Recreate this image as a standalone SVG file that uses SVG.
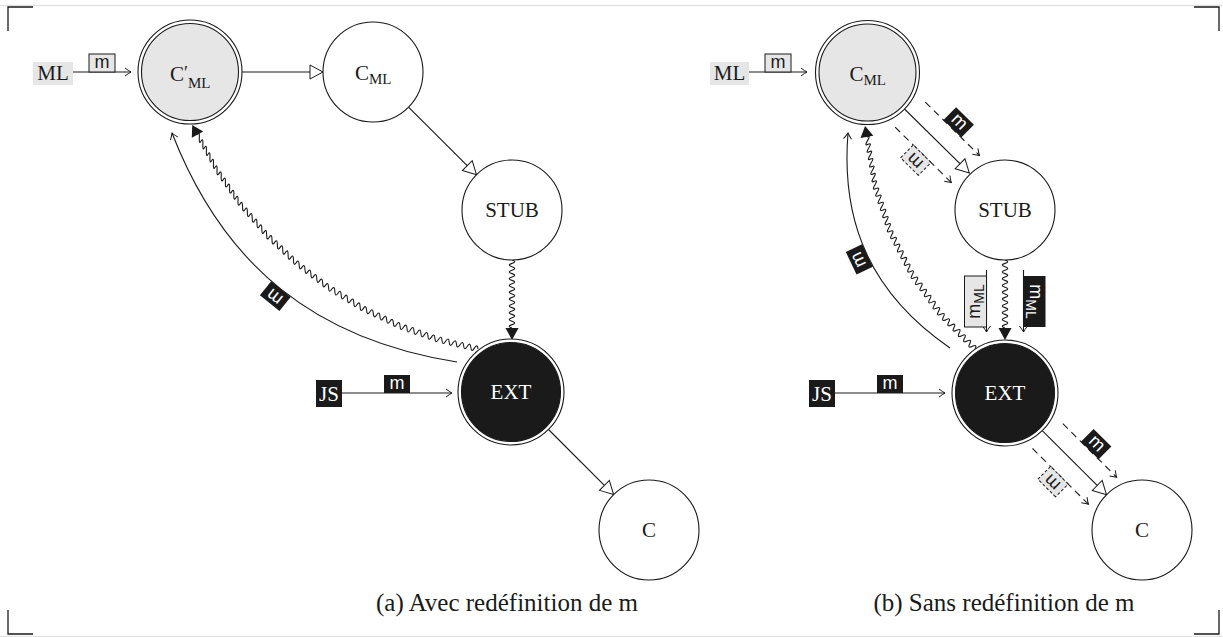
<svg xmlns="http://www.w3.org/2000/svg" width="1223" height="637" viewBox="0 0 1223 637">
<defs>
<style>
.ln{fill:none;stroke:#1a1a1a;stroke-width:1.1}
.dash{stroke-dasharray:7 5}
.wave{fill:none;stroke:#1a1a1a;stroke-width:1.1}
.circ{stroke:#1a1a1a;stroke-width:1.1;fill:#fff}
.gray{fill:#e6e6e6}
.blk{fill:#1a1a1a}
.gdash{fill:#e6e6e6;stroke:#1a1a1a;stroke-width:1;stroke-dasharray:3 2}
.gbox{fill:#e6e6e6;stroke:#1a1a1a;stroke-width:1}
.serif{font-family:"Liberation Serif","Times New Roman",serif;font-size:21px;fill:#1a1a1a}
.sans{font-family:"Liberation Sans",Arial,sans-serif;font-size:18px;fill:#1a1a1a}
.cap{font-family:"Liberation Serif","Times New Roman",serif;font-size:25px;fill:#1a1a1a}
.w{fill:#fff}
.corner{fill:none;stroke:#1a1a1a;stroke-width:1.3}
.page{fill:none;stroke:#e3e3e3;stroke-width:1.5}
</style>
<marker id="to" viewBox="-8 -6 10 12" markerWidth="10" markerHeight="12" refX="0" refY="0" orient="auto" markerUnits="userSpaceOnUse"><path d="M-6,-4 Q-2,-1 0,0 Q-2,1 -6,4" fill="none" stroke="#1a1a1a" stroke-width="1"/></marker>
<marker id="tri" viewBox="-15 -9 17 18" markerWidth="17" markerHeight="18" refX="0" refY="0" orient="auto" markerUnits="userSpaceOnUse"><path d="M-13,-7 L0,0 L-13,7 Z" fill="#fff" stroke="#1a1a1a" stroke-width="1"/></marker>
</defs>
<rect x="0" y="0" width="1223" height="637" fill="#fff"/>
<g id="frame">
<path class="page" d="M0,5.5 H1223 M0,636.5 H1223"/>
<path class="corner" d="M8,31 V7 H33 M1194,7 H1219 V31 M8,610 V634 H33 M1194,634 H1219 V610"/>
</g>

<g id="connectors">
<!-- (a) -->
<rect x="33" y="62" width="40" height="23" class="gray"/>
<text x="53" y="80" class="serif" text-anchor="middle">ML</text>
<path class="ln" d="M73,72 H131" marker-end="url(#to)"/>
<rect x="89" y="54" width="26" height="18" class="gbox"/>
<text x="102" y="67.5" class="sans" text-anchor="middle">m</text>
<path class="ln" d="M242,72 H323" marker-end="url(#tri)"/>
<path class="ln" d="M408.5,107.2 L476.5,174.8" marker-end="url(#tri)"/>
<path class="wave" d="M512,260 q5.5,1.7 0,3.4 t0,3.4 0,3.4 0,3.4 0,3.4 0,3.4 0,3.4 0,3.4 0,3.4 0,3.4 0,3.4 0,3.4 0,3.4 0,3.4 0,3.4 0,3.4 0,3.4 0,3.4 0,3.4 0,3.4"/>
<polygon points="505.5,328 518.5,328 512,340" class="blk"/>
<path class="ln" d="M548.5,429.5 L613.6,494.6" marker-end="url(#tri)"/>
<rect x="316" y="380" width="26" height="27" class="blk"/>
<text x="329" y="401" class="serif w" text-anchor="middle">JS</text>
<path class="ln" d="M342,393 H452" marker-end="url(#to)"/>
<rect x="384" y="375" width="26" height="18" class="blk"/>
<text x="397" y="388.5" class="sans w" text-anchor="middle">m</text>
<path class="wave" d="M478,349 q-0.52,-5.78 -3.599,-0.857
t-3.599,-0.857 -3.599,-0.857 -3.599,-0.857 -3.599,-0.857 -3.599,-0.857 -3.599,-0.857 -3.599,-0.857 -3.599,-0.857 -3.599,-0.857 -3.599,-0.857
-3.49,-1.229 -3.49,-1.229 -3.49,-1.229 -3.49,-1.229 -3.49,-1.229 -3.49,-1.229 -3.49,-1.229 -3.49,-1.229 -3.49,-1.229 -3.49,-1.229 -3.49,-1.229
-3.342,-1.587 -3.342,-1.587 -3.342,-1.587 -3.342,-1.587 -3.342,-1.587 -3.342,-1.587 -3.342,-1.587 -3.342,-1.587 -3.342,-1.587 -3.342,-1.587 -3.342,-1.587
-3.158,-1.928 -3.158,-1.928 -3.158,-1.928 -3.158,-1.928 -3.158,-1.928 -3.158,-1.928 -3.158,-1.928 -3.158,-1.928 -3.158,-1.928 -3.158,-1.928 -3.158,-1.928
-2.939,-2.247 -2.939,-2.247 -2.939,-2.247 -2.939,-2.247 -2.939,-2.247 -2.939,-2.247 -2.939,-2.247 -2.939,-2.247 -2.939,-2.247 -2.939,-2.247 -2.939,-2.247
-2.688,-2.542 -2.688,-2.542 -2.688,-2.542 -2.688,-2.542 -2.688,-2.542 -2.688,-2.542 -2.688,-2.542 -2.688,-2.542 -2.688,-2.542 -2.688,-2.542 -2.688,-2.542
-2.408,-2.809 -2.408,-2.809 -2.408,-2.809 -2.408,-2.809 -2.408,-2.809 -2.408,-2.809 -2.408,-2.809 -2.408,-2.809 -2.408,-2.809 -2.408,-2.809 -2.408,-2.809
-2.101,-3.045 -2.101,-3.045 -2.101,-3.045 -2.101,-3.045 -2.101,-3.045 -2.101,-3.045 -2.101,-3.045 -2.101,-3.045 -2.101,-3.045 -2.101,-3.045 -2.101,-3.045
-1.771,-3.249 -1.771,-3.249 -1.771,-3.249 -1.771,-3.249 -1.771,-3.249 -1.771,-3.249 -1.771,-3.249 -1.771,-3.249 -1.771,-3.249 -1.771,-3.249 -1.771,-3.249"/>
<polygon points="192.2,124.9 203.2,131.5 191.8,137.7" class="blk"/>
<path class="ln" d="M457,362 C315.7,339.7 223.8,266.3 172,133" marker-end="url(#to)"/>
<g transform="translate(275.3,296.1) rotate(218.7)"><rect x="-12.5" y="-9" width="25" height="18" class="blk"/><text x="0" y="4.5" class="sans w" text-anchor="middle">m</text></g>

<!-- (b) -->
<rect x="710" y="62" width="39" height="23" class="gray"/>
<text x="729.5" y="80" class="serif" text-anchor="middle">ML</text>
<path class="ln" d="M749,72 H807" marker-end="url(#to)"/>
<rect x="765" y="54" width="26" height="18" class="gbox"/>
<text x="778" y="67.5" class="sans" text-anchor="middle">m</text>
<g transform="translate(904.5,109) rotate(44.6)">
<path class="ln" d="M0,0 H91" marker-end="url(#tri)"/>
<path class="ln dash" d="M10,-19.5 H86" marker-end="url(#to)"/>
<path class="ln dash" d="M6,19.5 H85" marker-end="url(#to)"/>
<rect x="35.5" y="-37.5" width="25" height="18" class="blk"/>
<text x="48" y="-24" class="sans w" text-anchor="middle">m</text>
<g transform="translate(44,28.5) rotate(180)"><rect x="-12.5" y="-9" width="25" height="18" class="gdash"/><text x="0" y="4.5" class="sans" text-anchor="middle">m</text></g>
</g>
<path class="wave" d="M1005,260 q5.5,1.7 0,3.4 t0,3.4 0,3.4 0,3.4 0,3.4 0,3.4 0,3.4 0,3.4 0,3.4 0,3.4 0,3.4 0,3.4 0,3.4 0,3.4 0,3.4 0,3.4 0,3.4 0,3.4 0,3.4 0,3.4"/>
<polygon points="998.5,328 1011.5,328 1005,340" class="blk"/>
<path class="ln" d="M986.5,270 V332" marker-end="url(#to)"/>
<path class="ln" d="M1023.5,270 V332" marker-end="url(#to)"/>
<g transform="translate(975.5,301.5) rotate(-90)"><rect x="-25.5" y="-11" width="51" height="22" class="gbox"/><text x="0" y="4.5" class="sans" text-anchor="middle">m<tspan dy="4" font-size="14">ML</tspan></text></g>
<g transform="translate(1034.5,301.5) rotate(90)"><rect x="-25.5" y="-11" width="51" height="22" class="blk"/><text x="0" y="4.5" class="sans w" text-anchor="middle">m<tspan dy="4" font-size="14">ML</tspan></text></g>
<path class="wave" d="M975,349 q2.6,-5.2 -2.633,-2.67
t-2.633,-2.67 -2.633,-2.67 -2.633,-2.67 -2.633,-2.67 -2.633,-2.67 -2.633,-2.67 -2.633,-2.67 -2.633,-2.67 -2.633,-2.67 -2.633,-2.67 -2.633,-2.67 -2.633,-2.67
-2.194,-3.042 -2.194,-3.042 -2.194,-3.042 -2.194,-3.042 -2.194,-3.042 -2.194,-3.042 -2.194,-3.042 -2.194,-3.042 -2.194,-3.042 -2.194,-3.042 -2.194,-3.042 -2.194,-3.042 -2.194,-3.042
-1.703,-3.341 -1.703,-3.341 -1.703,-3.341 -1.703,-3.341 -1.703,-3.341 -1.703,-3.341 -1.703,-3.341 -1.703,-3.341 -1.703,-3.341 -1.703,-3.341 -1.703,-3.341 -1.703,-3.341 -1.703,-3.341
-1.171,-3.563 -1.171,-3.563 -1.171,-3.563 -1.171,-3.563 -1.171,-3.563 -1.171,-3.563 -1.171,-3.563 -1.171,-3.563 -1.171,-3.563 -1.171,-3.563 -1.171,-3.563 -1.171,-3.563 -1.171,-3.563
-0.612,-3.7 -0.612,-3.7 -0.612,-3.7 -0.612,-3.7 -0.612,-3.7 -0.612,-3.7 -0.612,-3.7 -0.612,-3.7 -0.612,-3.7 -0.612,-3.7 -0.612,-3.7 -0.612,-3.7 -0.612,-3.7"/>
<polygon points="865.1,126 873.35,135.8 860.5,138" class="blk"/>
<path class="ln" d="M950,348 C873.3,295.1 840.5,225.9 848,133" marker-end="url(#to)"/>
<g transform="translate(859.3,259.4) rotate(244.6)"><rect x="-12.5" y="-9" width="25" height="18" class="blk"/><text x="0" y="4.5" class="sans w" text-anchor="middle">m</text></g>
<rect x="809" y="380" width="26" height="27" class="blk"/>
<text x="822" y="401" class="serif w" text-anchor="middle">JS</text>
<path class="ln" d="M835,393 H945" marker-end="url(#to)"/>
<rect x="877" y="375" width="26" height="18" class="blk"/>
<text x="890" y="388.5" class="sans w" text-anchor="middle">m</text>
<g transform="translate(1042,430.4) rotate(44.9)">
<path class="ln" d="M0,0 H91" marker-end="url(#tri)"/>
<path class="ln dash" d="M10,-19.5 H86" marker-end="url(#to)"/>
<path class="ln dash" d="M6,19.5 H85" marker-end="url(#to)"/>
<rect x="35.5" y="-37.5" width="25" height="18" class="blk"/>
<text x="48" y="-24" class="sans w" text-anchor="middle">m</text>
<g transform="translate(44,28.5) rotate(180)"><rect x="-12.5" y="-9" width="25" height="18" class="gdash"/><text x="0" y="4.5" class="sans" text-anchor="middle">m</text></g>
</g>
</g>

<g id="a-cmlprime">
<circle cx="190" cy="72" r="52" class="circ"/>
<circle cx="190" cy="72" r="48.5" class="circ gray"/>
<text x="170" y="81" class="serif">C<tspan dy="-2" font-size="18">′</tspan><tspan dy="9" font-size="15">ML</tspan></text>
</g>
<g id="a-cml">
<circle cx="373" cy="72" r="50" class="circ"/>
<text x="355" y="80" class="serif">C<tspan dy="4" font-size="15">ML</tspan></text>
</g>
<g id="a-stub">
<circle cx="512" cy="210" r="50" class="circ"/>
<text x="512" y="217" class="serif" text-anchor="middle">STUB</text>
</g>
<g id="a-ext">
<circle cx="511" cy="392" r="53" class="circ"/>
<circle cx="511" cy="392" r="49.5" class="circ blk"/>
<text x="511" y="399" class="serif w" text-anchor="middle">EXT</text>
</g>
<g id="a-c">
<circle cx="649" cy="530" r="50" class="circ"/>
<text x="649" y="537" class="serif" text-anchor="middle">C</text>
</g>

<g id="b-cml">
<circle cx="867.5" cy="72.5" r="52" class="circ"/>
<circle cx="867.5" cy="72.5" r="48.5" class="circ gray"/>
<text x="849.5" y="81" class="serif">C<tspan dy="4" font-size="15">ML</tspan></text>
</g>
<g id="b-stub">
<circle cx="1005" cy="210" r="50" class="circ"/>
<text x="1005" y="217" class="serif" text-anchor="middle">STUB</text>
</g>
<g id="b-ext">
<circle cx="1005" cy="393" r="53" class="circ"/>
<circle cx="1005" cy="393" r="49.5" class="circ blk"/>
<text x="1005" y="400" class="serif w" text-anchor="middle">EXT</text>
</g>
<g id="b-c">
<circle cx="1142" cy="530" r="50" class="circ"/>
<text x="1142" y="537" class="serif" text-anchor="middle">C</text>
</g>

<g id="captions">
<text x="507" y="611" class="cap" text-anchor="middle">(a) Avec redéfinition de m</text>
<text x="1004" y="611" class="cap" text-anchor="middle">(b) Sans redéfinition de m</text>
</g>
</svg>
